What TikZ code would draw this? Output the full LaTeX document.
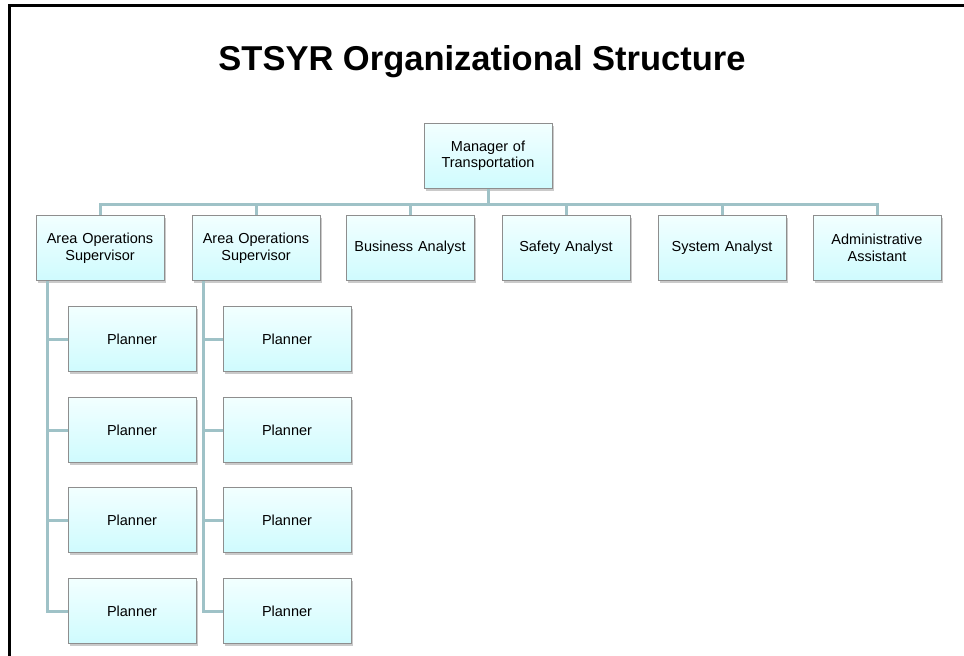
\documentclass[tikz,border=0pt]{standalone}
\usepackage{fontspec}
\setmainfont{Liberation Sans}
\usetikzlibrary{shadows}
\definecolor{connc}{HTML}{9FC2C7}
\definecolor{boxtop}{HTML}{F2FFFF}
\definecolor{boxbot}{HTML}{CFFBFE}
\definecolor{boxline}{HTML}{8E8E8E}
\tikzset{
  orgbox/.style={draw=boxline, line width=0.8pt, top color=boxtop, bottom color=boxbot,
    minimum width=128pt, minimum height=65pt, inner sep=0pt, align=center,
    text width=124pt, font=\fontsize{14.5}{16.5}\selectfont,
    drop shadow={shadow xshift=1.5pt, shadow yshift=-2.5pt, opacity=0.35, fill=black!60}},
  conn/.style={draw=connc, line width=3pt},
  frame/.style={draw=black, line width=3pt},
  titletext/.style={font=\fontsize{34.5}{40}\selectfont\bfseries}
}
\begin{document}
\begin{tikzpicture}[x=1pt,y=-1pt]
\useasboundingbox (0,0) rectangle (964,656);
\begin{scope}
\clip (0,0) rectangle (964,656);
\draw[frame] (9,5) rectangle (990,690);
\end{scope}
\node[titletext] (title) at (482,62) {STSYR Organizational Structure};

\node[orgbox] (mgr) at (488,156) {Manager of\\Transportation};

\node[orgbox] (aos1) at (100,248) {Area Operations\\Supervisor};
\node[orgbox] (aos2) at (256,248) {Area Operations\\Supervisor};
\node[orgbox] (ba) at (410,248) {Business Analyst};
\node[orgbox] (sa) at (566,248) {Safety Analyst};
\node[orgbox] (sys) at (722,248) {System Analyst};
\node[orgbox] (adm) at (877,248) {Administrative\\Assistant};

\foreach \i/\y in {1/339,2/430,3/520,4/611}{
  \node[orgbox] (pa\i) at (132,\y) {Planner};
  \node[orgbox] (pb\i) at (287,\y) {Planner};
}

\foreach \c in {aos1,aos2,ba,sa,sys,adm}{
  \draw[conn] (mgr.south) -- ++(0,16) -| (\c.north);
}
\coordinate (va) at ([xshift=12pt]aos1.south west);
\coordinate (vb) at ([xshift=12pt]aos2.south west);
\foreach \i in {1,2,3,4}{
  \draw[conn] (va) |- (pa\i.west);
  \draw[conn] (vb) |- (pb\i.west);
}
\end{tikzpicture}
\end{document}
